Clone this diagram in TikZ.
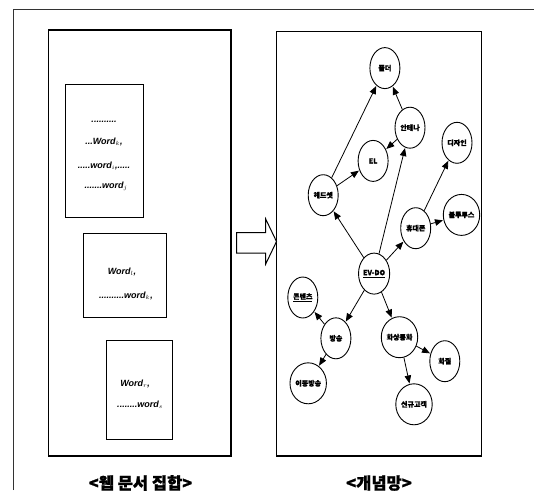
\documentclass[tikz,border=0pt]{standalone}
\usepackage{fontspec}
\setmainfont{Liberation Sans}
\newfontfamily\kr{Noto Sans CJK KR}[BoldFeatures={FakeBold=1.2}]
\usetikzlibrary{shapes.geometric,arrows.meta}
\tikzset{
  panel/.style={draw=black,line width=1.2pt},
  doc/.style={draw=black,line width=1pt},
  cnode/.style={ellipse,draw=black,line width=0.9pt,minimum width=30pt,minimum height=41pt,inner sep=0pt,font=\kr\bfseries\fontsize{7}{8}\selectfont},
  arr/.style={line width=0.8pt,-{Triangle[length=8pt,width=6.5pt]},shorten >=0.5pt},
  doctext/.style={font=\itshape\bfseries\fontsize{9}{10}\selectfont,inner sep=0pt},
  caption/.style={font=\kr\bfseries\fontsize{16.5}{18}\selectfont,inner sep=0pt}
}
\begin{document}
\begin{tikzpicture}[x=1pt,y=-1pt]
\useasboundingbox (0,0) rectangle (534,490);
\fill[white] (0,0) rectangle (534,490);
% outer frame
\draw[line width=0.7pt,black!80] (13.6,490) -- (13.6,9.5) -- (534,9.5);
% panels
\draw[panel] (48.4,30) rectangle (231,456);
\draw[panel] (276.5,31.3) rectangle (481.6,456);
% documents
\draw[doc] (65.7,84.5) rectangle (143,217.3);
\draw[doc] (83.8,233.3) rectangle (166.2,317.8);
\draw[doc] (106.6,340.6) rectangle (172,439.4);
\node[doctext] (t1) at (104,122) {..........};
\node[doctext] (t2) at (104,142) {...Word$_{k}$,};
\node[doctext] (t3) at (104,166) {.....word$_{i}$,.....};
\node[doctext] (t4) at (106,186) {.......word$_{j}$};
\node[doctext] (t5) at (122,272) {Word$_{l}$,};
\node[doctext] (t6) at (126,296) {..........word$_{k}$,};
\node[doctext] (t7) at (135,384) {Word$_{r}$,};
\node[doctext] (t8) at (140,405) {........word$_{s}$};
% block arrow
\draw[line width=1pt,fill=white] (236.7,232.6) -- (265.7,232.6) -- (265.7,219) -- (276.5,241.5) -- (265.7,264) -- (265.7,253) -- (236.7,253) -- cycle;
% concept nodes
\node[cnode] (pd) at (384.9,68.1) {폴더};
\node[cnode] (an) at (410,127.7) {안테나};
\node[cnode] (el) at (373.1,160.9) {EL};
\node[cnode] (dz) at (457,142.8) {디자인};
\node[cnode] (hs) at (323.2,195.2) {헤드셋};
\node[cnode] (wc) at (415.7,228.2) {휴대폰};
\node[cnode] (bt) at (461.5,214.9) {블루투스};
\node[cnode] (ev) at (374.1,273.6) {\underline{EV-DO}};
\node[cnode] (ct) at (302.8,297.5) {\underline{콘텐츠}};
\node[cnode] (bs) at (335.9,338.3) {방송};
\node[cnode] (vc) at (399.5,337.2) {화상통화};
\node[cnode] (hj) at (444.8,361.2) {화질};
\node[cnode] (mb) at (308.2,383.3) {이동방송};
\node[cnode] (nc) at (414,404.3) {신규고객};
% edges
\draw[arr] (hs) -- (pd);
\draw[arr] (hs) -- (el);
\draw[arr] (an) -- (pd);
\draw[arr] (an) -- (el);
\draw[arr] (ev) -- (an);
\draw[arr] (ev) -- (hs);
\draw[arr] (ev) -- (wc);
\draw[arr] (wc) -- (dz);
\draw[arr] (wc) -- (bt);
\draw[arr] (ev) -- (bs);
\draw[arr] (ev) -- (vc);
\draw[arr] (bs) -- (ct);
\draw[arr] (bs) -- (mb);
\draw[arr] (vc) -- (hj);
\draw[arr] (vc) -- (nc);
% captions
\node[caption] (c1) at (140.5,483) {<웹 문서 집합>};
\node[caption] (c2) at (379,483) {<개념망>};
\end{tikzpicture}
\end{document}
